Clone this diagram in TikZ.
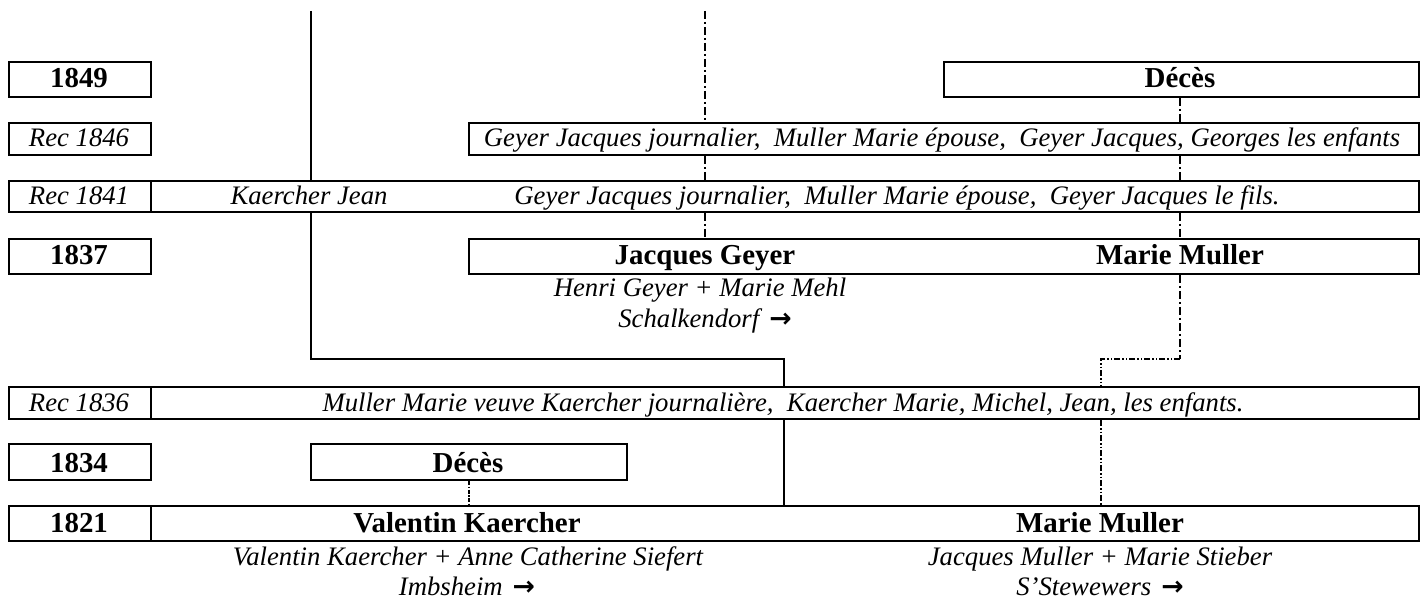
\documentclass[tikz,border=0pt]{standalone}
\usepackage{fontspec}
\setmainfont{Liberation Serif}
\newfontfamily\arrowfont{DejaVu Sans}
\begin{document}
\begin{tikzpicture}[x=1pt,y=-1pt,
  framebox/.style={draw, line width=2pt, inner sep=0pt, anchor=north west},
  itx/.style={font=\fontsize{26.7}{30}\selectfont\itshape, anchor=base, inner sep=0pt},
  bdx/.style={font=\fontsize{28.9}{32}\selectfont\bfseries, anchor=base, inner sep=0pt},
  conn/.style={line width=1.8pt},
  ddot/.style={line width=2pt, dash pattern=on 8pt off 3pt on 2pt off 3pt},
  dddot/.style={line width=1.5pt, dash pattern=on 6pt off 2pt on 1.5pt off 2pt on 1.5pt off 2pt},
  ddense/.style={line width=2pt, dash pattern=on 4pt off 1.5pt on 1.5pt off 1.5pt}]
\useasboundingbox (0,0) rectangle (1426,601);
\newcommand\bx[5]{\node[framebox, minimum width=#4pt, minimum height=#5pt] (#1) at (#2,#3) {};}
% boxes
\bx{d1849}{8}{61}{142}{35}
\bx{c1849}{943}{61}{475}{35}
\bx{d1846}{8}{122}{142}{32}
\bx{c1846}{468}{122}{950}{32}
\bx{d1841}{8}{180}{142}{31}
\bx{c1841}{150}{180}{1268}{31}
\bx{d1837}{8}{238}{142}{35}
\bx{c1837}{468}{238}{950}{35}
\bx{d1836}{8}{386}{142}{32}
\bx{c1836}{150}{386}{1268}{32}
\bx{d1834}{8}{443}{142}{36}
\bx{c1834}{310}{443}{316}{36}
\bx{d1821}{8}{505}{142}{35}
\bx{c1821}{150}{505}{1268}{35}
% texts
\node[bdx] (t1849) at (79,88) {1849};
\node[bdx] (t1849c) at (1180,88) {Décès};
\node[itx] (t1846) at (79,147) {Rec 1846};
\node[itx] (t1846c) at (942,147) {Geyer Jacques journalier,~ Muller Marie épouse,~ Geyer Jacques, Georges les enfants};
\node[itx] (t1841) at (79,205) {Rec 1841};
\node[itx] (t1841a) at (309,205) {Kaercher Jean};
\node[itx] (t1841b) at (897,205) {Geyer Jacques journalier,~ Muller Marie épouse,~ Geyer Jacques le fils.};
\node[bdx] (t1837) at (79,265) {1837};
\node[bdx] (t1837a) at (705,265) {Jacques Geyer};
\node[bdx] (t1837b) at (1180,265) {Marie Muller};
\node[itx] (p1) at (700,297) {Henri Geyer + Marie Mehl};
\node[itx] (p2) at (705,327) {Schalkendorf\hspace{10pt}{\arrowfont\upshape\bfseries →}};
\node[itx] (t1836) at (79,411) {Rec 1836};
\node[itx] (t1836c) at (783,411) {Muller Marie veuve Kaercher journalière,~ Kaercher Marie, Michel, Jean, les enfants.};
\node[bdx] (t1834) at (79,472) {1834};
\node[bdx] (t1834c) at (468,472) {Décès};
\node[bdx] (t1821) at (79,532) {1821};
\node[bdx] (t1821a) at (467,532) {Valentin Kaercher};
\node[bdx] (t1821b) at (1100,532) {Marie Muller};
\node[itx] (p3) at (468,565) {Valentin Kaercher + Anne Catherine Siefert};
\node[itx] (p4) at (467,595) {Imbsheim\hspace{10pt}{\arrowfont\upshape\bfseries →}};
\node[itx] (p5) at (1100,565) {Jacques Muller + Marie Stieber};
\node[itx] (p6) at (1100,595) {S’Stewewers\hspace{10pt}{\arrowfont\upshape\bfseries →}};
% connectors
\coordinate (topA) at (311,11);
\coordinate (aBend) at (311,359);
\coordinate (aBend2) at (784,359);
\draw[conn] (topA) -- (c1841.north -| topA);
\draw[conn] (c1841.south -| topA) -- (aBend) -- (aBend2) -- (c1836.north -| aBend2);
\draw[conn] (c1836.south -| aBend2) -- (c1821.north -| aBend2);
\coordinate (topB) at (705,11);
\draw[ddot] (topB) -- (c1846.north -| topB);
\draw[ddot] (c1846.south -| topB) -- (c1841.north -| topB);
\draw[ddot] (c1841.south -| topB) -- (c1837.north -| topB);
\coordinate (cX) at (1180,359);
\coordinate (cY) at (1101,359);
\draw[ddot] (c1849.south -| cX) -- (c1846.north -| cX);
\draw[ddot] (c1846.south -| cX) -- (c1841.north -| cX);
\draw[ddot] (c1841.south -| cX) -- (c1837.north -| cX);
\draw[ddot] (c1837.south -| cX) -- (cX);
\draw[dddot] (cX) -- (cY) -- (c1836.north -| cY);
\draw[dddot] (c1836.south -| cY) -- (c1821.north -| cY);
\draw[ddense] (c1834.south) -- (c1821.north -| c1834.south);
\end{tikzpicture}
\end{document}
